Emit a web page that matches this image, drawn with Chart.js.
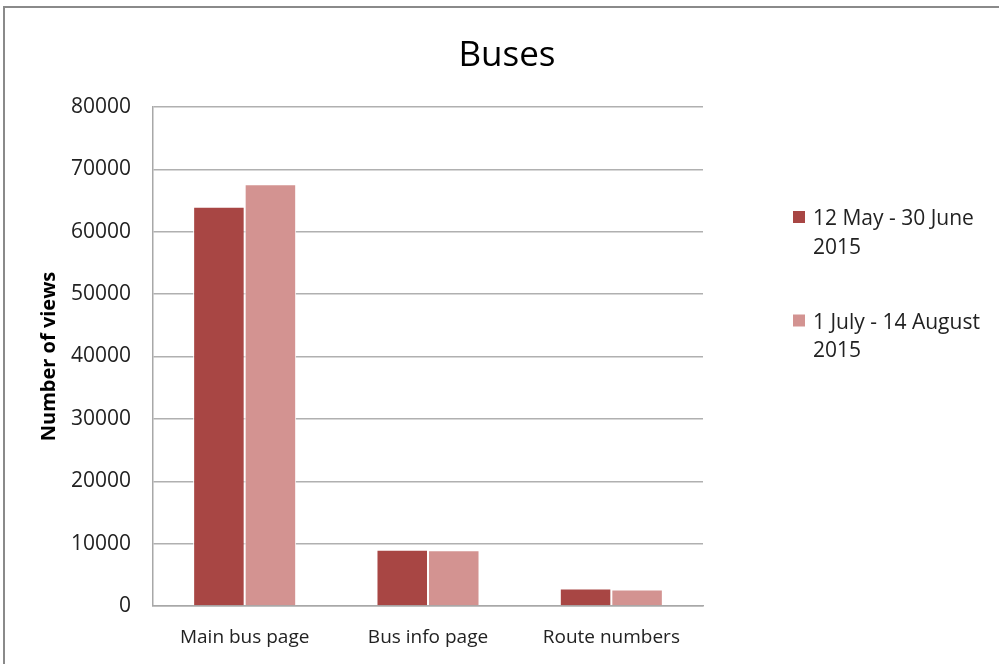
<!DOCTYPE html>
<html>
<head>
<meta charset="utf-8">
<script src="https://cdn.jsdelivr.net/npm/chart.js@4.4.0/dist/chart.umd.min.js"></script>
<style>
  html, body { margin: 0; padding: 0; background: #fff; }
  #wrap { position: relative; width: 999px; height: 664px; overflow: hidden; }
  #frame { position: absolute; left: 3px; top: 6px; width: 1100px; height: 800px;
           border-left: 2px solid #8a8a8a; border-top: 2px solid #8a8a8a; box-sizing: border-box; }
  canvas { position: absolute; left: 0; top: 0; }
</style>
</head>
<body>
<div id="wrap">
  <div id="frame"></div>
  <canvas id="myGraph" width="999" height="664"></canvas>
</div>
<script>
const chartTitle = 'Buses';
const categories = ['Main bus page', 'Bus info page', 'Route numbers'];
const seriesNames = ['12 May - 30 June 2015', '1 July - 14 August 2015'];
const mayJune = [64000, 9000, 2800];
const julyAug = [67600, 8950, 2650];
const seriesColors = ['#a84644', '#d39391'];
const yTicks = [0, 10000, 20000, 30000, 40000, 50000, 60000, 70000, 80000];

const FONT = '"Open Sans", "Noto Sans", sans-serif';

// title and the two-line legend, drawn by hand
const sideText = {
  id: 'sideText',
  afterDraw(chart) {
    const ctx = chart.ctx;
    ctx.save();
    ctx.fillStyle = '#000';
    ctx.font = '35px ' + FONT;
    ctx.textAlign = 'center';
    ctx.textBaseline = 'alphabetic';
    ctx.fillText(chartTitle, 507, 66);

    ctx.textAlign = 'left';
    ctx.font = '21px ' + FONT;
    chart.data.datasets.forEach((ds, i) => {
      const top = 225 + i * 103.5;
      const words = ds.label.split(' ');
      const last = words.pop();
      ctx.fillStyle = ds.backgroundColor;
      ctx.fillRect(793, top - 14, 12, 12);
      ctx.fillStyle = '#222';
      ctx.fillText(words.join(' '), 813, top);
      ctx.fillText(last, 813, top + 28.5);
    });
    ctx.restore();
  }
};

new Chart(document.getElementById('myGraph').getContext('2d'), {
  type: 'bar',
  data: {
    labels: categories,
    datasets: [
      {
        label: seriesNames[0],
        data: mayJune,
        backgroundColor: seriesColors[0],
        borderColor: '#ffffff',
        borderWidth: 1,
      },
      {
        label: seriesNames[1],
        data: julyAug,
        backgroundColor: seriesColors[1],
        borderColor: '#ffffff',
        borderWidth: 1,
      },
    ],
  },
  options: {
    responsive: false,
    animation: false,
    layout: { padding: { left: 0, right: 296, top: 107, bottom: 0 } },
    plugins: {
      legend: { display: false },
      title: { display: false },
      tooltip: { enabled: false },
    },
    datasets: {
      bar: { categoryPercentage: 0.562, barPercentage: 1.0 },
    },
    scales: {
      x: {
        grid: { display: false },
        border: { display: true, color: '#a8a8a8', width: 1.5 },
        ticks: { color: '#222', font: { family: FONT, size: 19 }, padding: 12 },
        afterFit(scale) { scale.height = 58; },
      },
      y: {
        min: 0,
        max: 80000,
        afterBuildTicks(scale) { scale.ticks = yTicks.map(v => ({ value: v })); },
        grid: { color: '#b0b0b0', lineWidth: 1.5, drawTicks: false },
        border: { display: true, color: '#a8a8a8', width: 1.5 },
        ticks: {
          color: '#222',
          font: { family: FONT, size: 21 },
          padding: 22,
          callback: v => String(v),
        },
        title: {
          display: true,
          text: 'Number of views',
          color: '#000',
          font: { family: FONT, size: 20, weight: 'bold' },
          padding: { top: 37, bottom: 0 },
        },
        afterFit(scale) { scale.width = 153; },
      },
    },
  },
  plugins: [sideText],
});
</script>
</body>
</html>
